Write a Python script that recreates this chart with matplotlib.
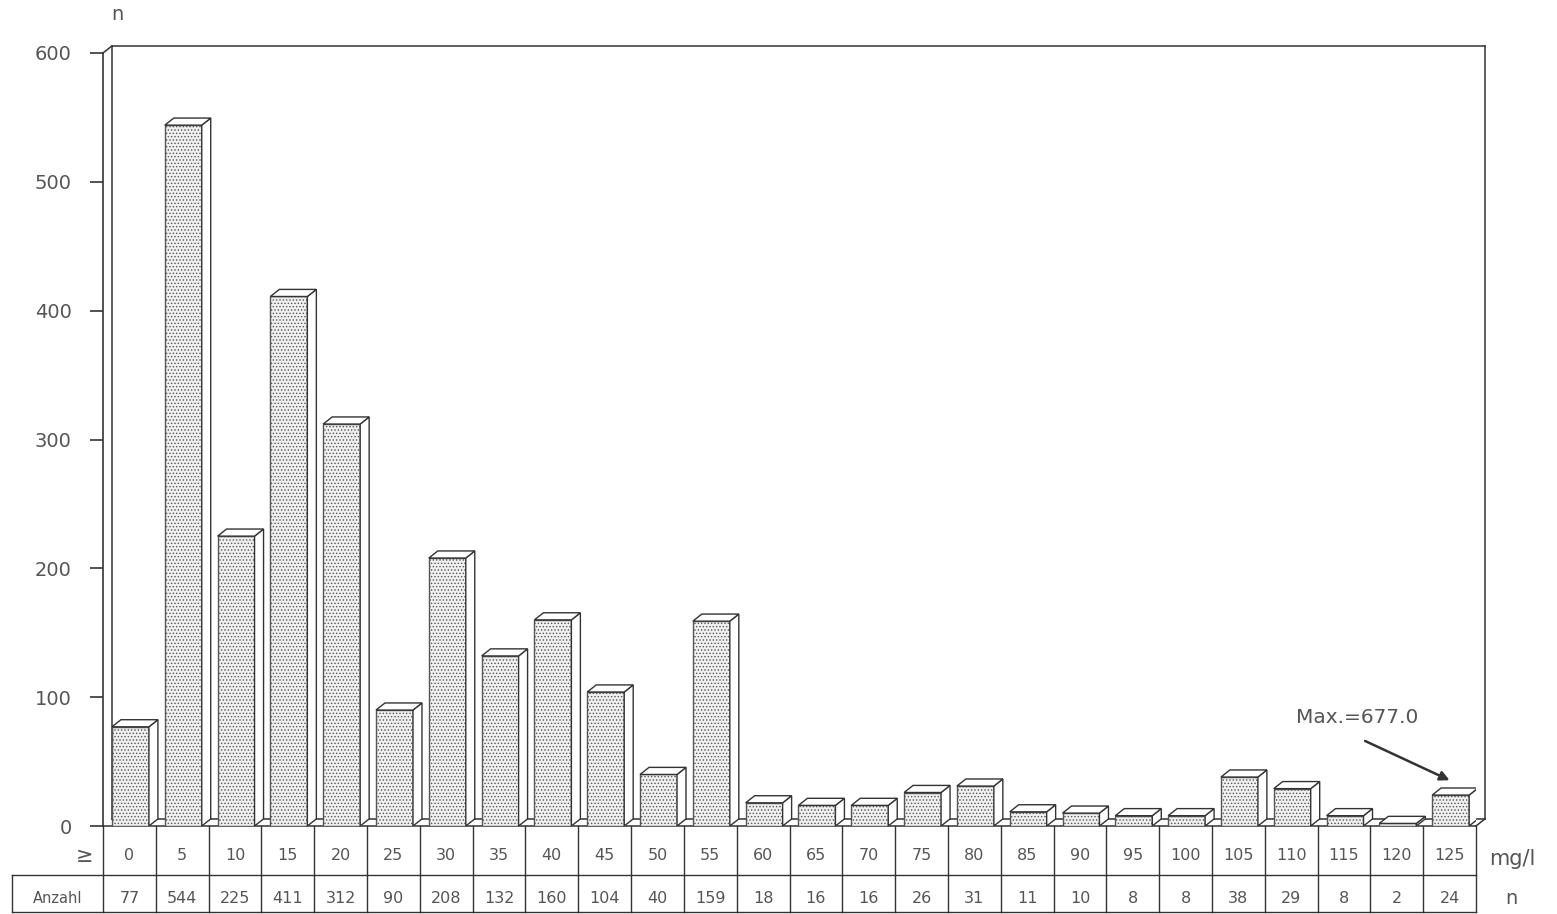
import numpy as np
import matplotlib.pyplot as plt
from matplotlib.patches import Polygon

# Klassen (mg/l, untere Grenze) und Anzahl
klassen = [0, 5, 10, 15, 20, 25, 30, 35, 40, 45, 50, 55, 60, 65, 70, 75, 80,
           85, 90, 95, 100, 105, 110, 115, 120, 125]
anzahl = [77, 544, 225, 411, 312, 90, 208, 132, 160, 104, 40, 159, 18, 16, 16,
          26, 31, 11, 10, 8, 8, 38, 29, 8, 2, 24]
y_ticks = [0, 100, 200, 300, 400, 500, 600]
max_text = 'Max.=677.0'

plt.rcParams['font.family'] = ['DejaVu Sans']
plt.rcParams['hatch.color'] = '#c4c4c4'
plt.rcParams['hatch.linewidth'] = 0.6
grey = '#555555'
dark = '#333333'

fig = plt.figure(figsize=(15.57, 9.14), dpi=100)
ax = fig.add_axes([103 / 1557, 88 / 914, 1373 / 1557, 773 / 914])
n = len(klassen)
ax.set_xlim(0, n)
ax.set_ylim(0, 600)

# depth of the pseudo 3d effect in data units
dx, dy = 0.17, 5.5

for s in ['top', 'right', 'bottom']:
    ax.spines[s].set_visible(False)
ax.spines['left'].set_color(dark)
ax.spines['left'].set_linewidth(1.2)
ax.set_xticks([])
ax.set_yticks(y_ticks)
ax.set_yticklabels([str(v) for v in y_ticks], fontsize=14, color=grey)
ax.tick_params(axis='y', length=9.5, width=1.2, color=dark, pad=13)

# back wall and floor
kw = dict(color=dark, lw=1.1, clip_on=False, zorder=1)
ax.plot([0, dx], [600, 600 + dy], **kw)
ax.plot([dx, n + dx], [600 + dy, 600 + dy], **kw)
ax.plot([dx, dx], [dy, 600 + dy], **kw)
ax.plot([n + dx, n + dx], [dy, 600 + dy], **kw)
ax.plot([dx, n + dx], [dy, dy], **kw)
ax.plot([0, n], [0, 0], **kw)
ax.plot([n, n + dx], [0, dy], **kw)

# bars
off, w = 0.17, 0.70
for i, v in enumerate(anzahl):
    x0 = i + off
    x1 = x0 + w
    ax.bar(x0, v, width=w, align='edge', facecolor='#f0f0f0', edgecolor='#555555',
           linewidth=1.0, hatch='.....', zorder=3)
    side = Polygon([(x1, 0), (x1 + dx, dy), (x1 + dx, v + dy), (x1, v)],
                   closed=True, facecolor='white', edgecolor=dark, lw=1.0, zorder=3)
    top = Polygon([(x0, v), (x0 + dx, v + dy), (x1 + dx, v + dy), (x1, v)],
                  closed=True, facecolor='white', edgecolor=dark, lw=1.0, zorder=3)
    ax.add_patch(side)
    ax.add_patch(top)

# table below the axis
r1, r2 = -38.0, -66.8
x_anz = -1.72
ty1 = r1 / 2 - 4
ty2 = (r1 + r2) / 2 - 3.5
tk = dict(color=dark, lw=1.0, clip_on=False, zorder=2)
for i in range(n + 1):
    ax.plot([i, i], [0, r2], **tk)
ax.plot([x_anz, n], [r1, r1], **tk)
ax.plot([x_anz, n], [r2, r2], **tk)
ax.plot([x_anz, x_anz], [r1, r2], **tk)
for i, (k, a) in enumerate(zip(klassen, anzahl)):
    ax.text(i + 0.5, ty1, str(k), ha='center', va='center', fontsize=11.5,
            color=grey, clip_on=False)
    ax.text(i + 0.5, ty2, str(a), ha='center', va='center', fontsize=11.5,
            color=grey, clip_on=False)
ax.text(x_anz / 2, ty2, 'Anzahl', ha='center', va='center', fontsize=10.5,
        color=grey, clip_on=False)
ax.text(-0.35, ty1, '≥', ha='center', va='center', fontsize=15, color=grey,
        clip_on=False)
ax.text(n + 0.25, ty1 - 3, 'mg/l', ha='left', va='center', fontsize=15,
        color=grey, clip_on=False)
ax.text(n + 0.55, ty2, 'n', ha='left', va='center', fontsize=14,
        color=grey, clip_on=False)
ax.text(0.28, 630, 'n', ha='center', va='center', fontsize=14, color=grey,
        clip_on=False)

# max annotation
ax.text(23.75, 84, max_text, fontsize=14.5, color=grey, ha='center', va='center')
ax.annotate('', xy=(25.5, 35.5), xytext=(23.9, 66),
            arrowprops=dict(arrowstyle='-|>', color=dark, lw=1.8,
                            shrinkA=0, shrinkB=0, mutation_scale=14))

fig.savefig('out.png', dpi=100)
